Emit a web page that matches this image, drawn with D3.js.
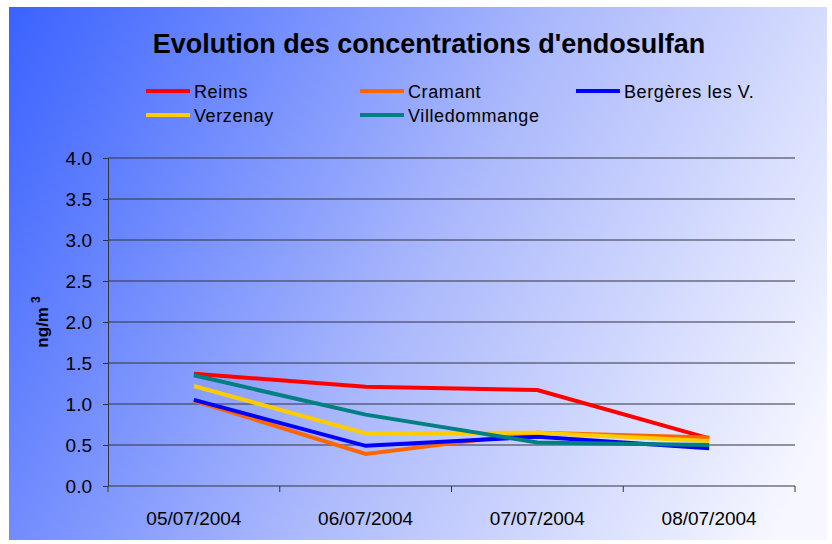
<!DOCTYPE html>
<html>
<head>
<meta charset="utf-8">
<script src="https://cdn.jsdelivr.net/npm/d3@7"></script>
<style>
  body { margin: 0; background: #fff; }
  text { font-family: "Liberation Sans", Arial, sans-serif; }
</style>
</head>
<body>
<div id="chart-area"></div>
<script>
// dates on the x axis
const dates = ["05/07/2004", "06/07/2004", "07/07/2004", "08/07/2004"];

// series (ng/m3)
const seriesNames = ["Reims", "Cramant", "Bergères les V.", "Verzenay", "Villedommange"];
const reims = [1.37, 1.21, 1.17, 0.58];
const cramant = [1.04, 0.39, 0.65, 0.59];
const bergeres = [1.05, 0.49, 0.60, 0.46];
const verzenay = [1.22, 0.64, 0.65, 0.55];
const villedommange = [1.35, 0.87, 0.53, 0.50];
const yTicks = [0, 0.5, 1, 1.5, 2, 2.5, 3, 3.5, 4];

const colors = ["#ff0000", "#ff6600", "#0000ff", "#ffcc00", "#008080"];
const allValues = [reims, cramant, bergeres, verzenay, villedommange];

const series = seriesNames.map((name, i) => ({
  name: name,
  color: colors[i],
  values: allValues[i]
}));

const svg = d3.select('#chart-area').append('svg')
  .attr('width', 832)
  .attr('height', 544);

// background gradient
const grad = svg.append('defs').append('linearGradient')
  .attr('id', 'bg')
  .attr('gradientUnits', 'userSpaceOnUse')
  .attr('x1', 9).attr('y1', 7)
  .attr('x2', 832).attr('y2', 420);
grad.append('stop').attr('offset', '0%').attr('stop-color', '#3a62ff');
grad.append('stop').attr('offset', '55%').attr('stop-color', '#aebbfc');
grad.append('stop').attr('offset', '100%').attr('stop-color', '#f6f7ff');

svg.append('rect')
  .attr('x', 9)
  .attr('y', 7)
  .attr('width', 818)
  .attr('height', 533)
  .attr('fill', 'url(#bg)');

const x = d3.scaleBand()
  .domain(dates)
  .range([108, 795])
  .padding(0);

const y = d3.scaleLinear()
  .domain([0, 4])
  .range([486, 158]);

// grid lines
svg.append('g')
  .selectAll('line')
  .data(yTicks.filter(d => d > 0))
  .enter().append('line')
    .attr('x1', 108)
    .attr('x2', 795)
    .attr('y1', d => y(d))
    .attr('y2', d => y(d))
    .attr('stroke', '#333340')
    .attr('stroke-width', 1);

// y axis
const yAxis = svg.append('g')
  .attr('transform', 'translate(108,0)')
  .call(d3.axisLeft(y).tickValues(yTicks).tickFormat(d3.format('.1f')).tickSize(5).tickPadding(11));
yAxis.select('.domain').attr('stroke', '#333340');
yAxis.selectAll('.tick line').attr('stroke', '#333340');
yAxis.selectAll('text')
  .attr('font-size', 19)
  .attr('fill', '#000')
  .attr('dy', '0.35em')
  .style('font-family', '"Liberation Sans", Arial, sans-serif');

// x axis
const xAxis = svg.append('g')
  .attr('transform', 'translate(0,486)');
xAxis.append('line')
  .attr('x1', 108).attr('x2', 795)
  .attr('y1', 0).attr('y2', 0)
  .attr('stroke', '#333340');
xAxis.selectAll('.xtick')
  .data(dates.concat(['end']))
  .enter().append('line')
    .attr('class', 'xtick')
    .attr('x1', (d, i) => i < dates.length ? x(d) : x.range()[1])
    .attr('x2', (d, i) => i < dates.length ? x(d) : x.range()[1])
    .attr('y1', 0)
    .attr('y2', 6)
    .attr('stroke', '#333340');
xAxis.selectAll('.xlabel')
  .data(dates)
  .enter().append('text')
    .attr('class', 'xlabel')
    .attr('x', d => x(d) + x.bandwidth() / 2)
    .attr('y', 39)
    .attr('text-anchor', 'middle')
    .attr('font-size', 19)
    .attr('fill', '#000')
    .text(d => d);

// y axis title
const yTitle = svg.append('text')
  .attr('transform', 'translate(48,322) rotate(-90)')
  .attr('text-anchor', 'middle')
  .attr('font-size', 17)
  .attr('font-weight', 'bold')
  .attr('fill', '#000');
yTitle.append('tspan').text('ng/m');
yTitle.append('tspan').attr('font-size', 12).attr('dy', -8).attr('dx', 4).text('3');

// lines
const line = d3.line()
  .x((d, i) => x(dates[i]) + x.bandwidth() / 2)
  .y(d => y(d));

svg.append('g')
  .selectAll('path')
  .data(series)
  .enter().append('path')
    .attr('d', d => line(d.values))
    .attr('fill', 'none')
    .attr('stroke', d => d.color)
    .attr('stroke-width', 4)
    .attr('stroke-linejoin', 'miter');

// title
svg.append('text')
  .attr('x', 429)
  .attr('y', 53)
  .attr('text-anchor', 'middle')
  .attr('font-size', 27)
  .attr('font-weight', 'bold')
  .attr('fill', '#000')
  .text("Evolution des concentrations d'endosulfan");

// legend
const legendX = [146, 360, 576];
const legendY = [91, 115];
const legend = svg.append('g')
  .selectAll('g')
  .data(series)
  .enter().append('g')
    .attr('transform', (d, i) => `translate(${legendX[i % 3]},${legendY[Math.floor(i / 3)]})`);
legend.append('line')
  .attr('x1', 0).attr('x2', 44)
  .attr('y1', 0).attr('y2', 0)
  .attr('stroke', d => d.color)
  .attr('stroke-width', 4);
legend.append('text')
  .attr('x', 48)
  .attr('y', 7)
  .attr('font-size', 18)
  .attr('letter-spacing', 0.6)
  .attr('fill', '#000')
  .text(d => d.name);
</script>
</body>
</html>
